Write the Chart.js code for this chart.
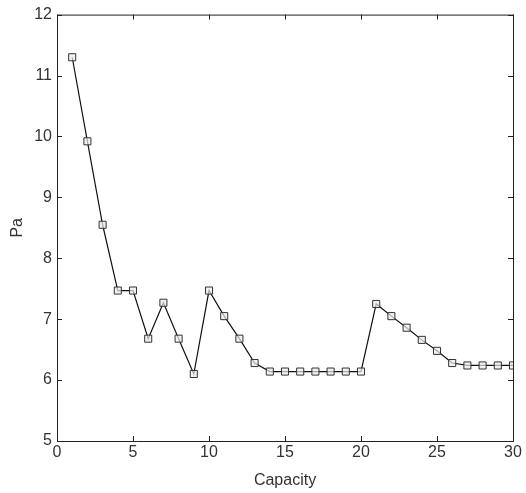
<!DOCTYPE html>
<html>
<head>
<meta charset="utf-8">
<script src="https://cdn.jsdelivr.net/npm/chart.js@4"></script>
<style>
  body { margin: 0; background: #fff; }
  #wrap { width: 526px; height: 493px; }
</style>
</head>
<body>
<div id="wrap"><canvas id="paChart" width="526" height="493"></canvas></div>
<script>
// Capacity on x, Pa on y
const capacity = [1, 2, 3, 4, 5, 6, 7, 8, 9, 10, 11, 12, 13, 14, 15,
                  16, 17, 18, 19, 20, 21, 22, 23, 24, 25, 26, 27, 28, 29, 30];
const paValues = [11.30, 9.92, 8.55, 7.47, 7.47, 6.68, 7.27, 6.68, 6.10, 7.47,
                  7.05, 6.68, 6.28, 6.14, 6.14, 6.14, 6.14, 6.14, 6.14, 6.14,
                  7.25, 7.05, 6.86, 6.66, 6.48, 6.28, 6.24, 6.24, 6.24, 6.24];
const xTicks = [0, 5, 10, 15, 20, 25, 30];
const yTicks = [5, 6, 7, 8, 9, 10, 11, 12];

const textColor = '#333';
const fontFamily = '"Liberation Sans", Arial, sans-serif';

// Frame box plus inward tick marks on all four sides (matlab style)
const frameTicks = {
    id: 'frameTicks',
    afterDraw(chart) {
        const c = chart.ctx;
        const a = chart.chartArea;
        const xs = chart.scales.x;
        const ys = chart.scales.y;
        const len = 5;
        c.save();
        c.strokeStyle = '#222';
        c.lineWidth = 1;
        c.strokeRect(a.left + 0.5, a.top + 0.5, a.right - a.left, a.bottom - a.top);
        c.beginPath();
        xTicks.forEach(v => {
            const px = Math.round(xs.getPixelForValue(v)) + 0.5;
            c.moveTo(px, a.bottom); c.lineTo(px, a.bottom - len);
            c.moveTo(px, a.top); c.lineTo(px, a.top + len);
        });
        yTicks.forEach(v => {
            const py = Math.round(ys.getPixelForValue(v)) + 0.5;
            c.moveTo(a.left, py); c.lineTo(a.left + len, py);
            c.moveTo(a.right, py); c.lineTo(a.right - len, py);
        });
        c.stroke();
        c.restore();
    }
};

const ctx = document.getElementById('paChart').getContext('2d');

new Chart(ctx, {
    type: 'line',
    data: {
        datasets: [{
            data: capacity.map((x, i) => ({ x: x, y: paValues[i] })),
            borderColor: '#111',
            borderWidth: 1.2,
            backgroundColor: '#fff',
            pointStyle: 'rect',
            pointRadius: 5,
            pointBorderColor: '#333',
            pointBorderWidth: 1,
            pointBackgroundColor: 'rgba(235,235,235,0.7)',
            tension: 0,
            fill: false
        }]
    },
    options: {
        responsive: false,
        animation: false,
        layout: { padding: { top: 14, right: 13, left: 0, bottom: 0 } },
        plugins: {
            legend: { display: false },
            tooltip: { enabled: false }
        },
        scales: {
            x: {
                type: 'linear',
                min: 0,
                max: 30,
                afterBuildTicks: s => { s.ticks = xTicks.map(v => ({ value: v })); },
                afterFit: s => { s.height = 52; },
                grid: { display: false, drawTicks: false, tickLength: 0 },
                border: { display: false },
                ticks: { color: textColor, font: { family: fontFamily, size: 16 }, padding: 2, maxRotation: 0 },
                title: {
                    display: true,
                    text: 'Capacity',
                    color: textColor,
                    font: { family: fontFamily, size: 16 },
                    padding: { top: 4, bottom: 3 }
                }
            },
            y: {
                min: 5,
                max: 12,
                afterBuildTicks: s => { s.ticks = yTicks.map(v => ({ value: v })); },
                afterFit: s => { s.width = 57; },
                grid: { display: false, drawTicks: false, tickLength: 0 },
                border: { display: false },
                ticks: { color: textColor, font: { family: fontFamily, size: 16 }, padding: 5 },
                title: {
                    display: true,
                    text: 'Pa',
                    color: textColor,
                    font: { family: fontFamily, size: 16 },
                    padding: { top: 8, bottom: 4 }
                }
            }
        }
    },
    plugins: [frameTicks]
});
</script>
</body>
</html>
